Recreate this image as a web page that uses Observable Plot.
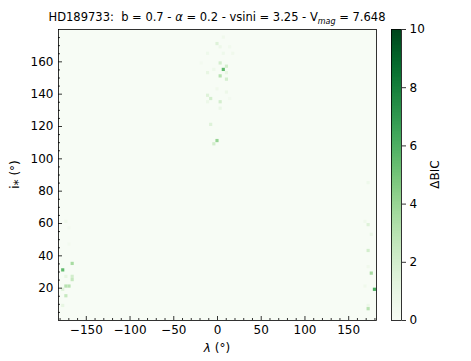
<!DOCTYPE html>
<html><head><meta charset="utf-8">
<script src="https://cdn.jsdelivr.net/npm/d3@7"></script>
<script src="https://cdn.jsdelivr.net/npm/@observablehq/plot@0.6"></script>
<style>
body{margin:0;background:#fff}
#wrap{position:relative;width:471px;height:361px}
#wrap svg{position:absolute;left:0;top:0}
</style>
</head><body><div id="wrap"></div>
<script>
// Non-zero ΔBIC cells (all other cells are ~0)
const lambdaDeg = [
  -172.8, -169.2, -169.2, -165.6, -176.4, -172.8, -165.6, -165.6, -172.8, -169.2, -176.4, -172.8, -176.4,
  7.2, 0, 3.6, 14.4, 18, -10.8, 7.2, 3.6, 10.8, 7.2, -3.6, 10.8, -10.8, 3.6, 10.8, -18, 0, 10.8, -10.8, -7.2, -10.8, 3.6, 3.6, 14.4, -7.2, 0, -3.6,
  172.8, 169.2, 172.8, 176.4, 172.8, 172.8, 176.4, 169.2, 180, 172.8, 172.8
];
const incDeg = [
  61, 57, 47, 35, 31, 27, 27, 25, 21, 21, 19, 15, 9,
  175, 171, 169, 169, 165, 165, 165, 159, 157, 155, 155, 153, 153, 151, 149, 159, 143, 141, 139, 137, 135, 135, 131, 137, 121, 111, 109,
  85, 61, 59, 53, 43, 33, 29, 21, 19, 9, 7
];
const deltaBIC = [
  0.5, 0.3, 0.3, 3.5, 5.5, 1.0, 2.0, 2.5, 3.0, 3.0, 1.5, 2.5, 1.0,
  0.5, 1.5, 0.7, 0.4, 0.5, 0.6, 0.6, 2.0, 2.0, 5.5, 0.6, 1.0, 1.0, 3.0, 2.0, 0.3, 0.5, 0.7, 1.5, 2.0, 0.7, 2.0, 0.8, 0.3, 1.5, 4.0, 2.0,
  0.6, 0.5, 1.5, 0.8, 2.0, 0.5, 3.5, 0.5, 6.0, 0.7, 3.0
];
const xTicks = [-150, -100, -50, 0, 50, 100, 150];
const yTicks = [20, 40, 60, 80, 100, 120, 140, 160];
const cbTicks = [0, 2, 4, 6, 8, 10];
const xMinor = d3.range(-180, 181, 10).filter(d => !xTicks.includes(d));
const yMinor = d3.range(5, 180, 5).filter(d => !yTicks.includes(d));

const W = 471, H = 361, mL = 58, mR = 95, mT = 29, mB = 41;
const plotW = W - mL - mR, plotH = H - mT - mB;
const cells = lambdaDeg.map((l, k) => ({lam: l, inc: incDeg[k], v: deltaBIC[k]}));
const colorOpt = {type: "linear", scheme: "greens", domain: [0, 10]};
const fmt = d => d < 0 ? "\u2212" + Math.abs(d) : String(d);
const font = {fontFamily: "DejaVu Sans", fontSize: "12px", color: "#000", background: "transparent", overflow: "visible"};
const tk = {stroke: "#000", strokeWidth: 0.8};

const main = Plot.plot({
  width: W, height: H, marginLeft: mL, marginRight: mR, marginTop: mT, marginBottom: mB,
  style: font,
  x: {domain: [-181.8, 181.8]},
  y: {domain: [0, 180]},
  color: colorOpt,
  marks: [
    Plot.frame({fill: "#f7fcf5", stroke: null}),
    Plot.rect(cells, {x1: d => d.lam - 1.8, x2: d => d.lam + 1.8, y1: d => d.inc - 1, y2: d => d.inc + 1, fill: "v"}),
    Plot.tickX(xTicks, {x: d => d, insetTop: plotH - 4, ...tk}),
    Plot.tickX(xMinor, {x: d => d, insetTop: plotH - 2, ...tk}),
    Plot.tickY(yTicks, {y: d => d, insetRight: plotW - 4, ...tk}),
    Plot.tickY(yMinor, {y: d => d, insetRight: plotW - 2, ...tk}),
    Plot.axisX(xTicks, {tickSize: 0, tickPadding: 5, tickFormat: fmt, label: null}),
    Plot.axisY(yTicks, {tickSize: 0, tickPadding: 5, label: null}),
    Plot.frame({stroke: "#000", strokeWidth: 0.8})
  ]
});

const cbStep = 0.05;
const cb = Plot.plot({
  width: W, height: H, marginLeft: 391, marginRight: 70, marginTop: mT, marginBottom: mB,
  style: font,
  x: {domain: [0, 1], axis: null},
  y: {domain: [0, 10]},
  color: colorOpt,
  marks: [
    Plot.rect(d3.range(0, 10, cbStep), {x1: 0, x2: 1, y1: d => d, y2: d => d + cbStep + 0.01, fill: d => d + cbStep / 2, shapeRendering: "crispEdges"}),
    Plot.axisY(cbTicks, {anchor: "right", tickSize: 4, tickPadding: 4, label: null, strokeWidth: 0.8}),
    Plot.frame({stroke: "#000", strokeWidth: 0.8})
  ]
});

const wrap = document.getElementById("wrap");
wrap.appendChild(main);
wrap.appendChild(cb);

const s = d3.select(main);
const t = s.append("text").attr("x", (mL + W - mR) / 2).attr("y", 21).attr("text-anchor", "middle")
  .style("white-space", "pre").attr("font-size", 11.5).attr("fill", "#000");
t.append("tspan").text("HD189733:  b = 0.7 - ");
t.append("tspan").attr("font-style", "italic").text("α");
t.append("tspan").text(" = 0.2 - vsini = 3.25 - V");
t.append("tspan").attr("font-style", "italic").attr("font-size", 8).attr("dy", 3).text("mag");
t.append("tspan").attr("dy", -3).text(" = 7.648");

const xl = s.append("text").attr("x", (mL + W - mR) / 2).attr("y", 352).attr("text-anchor", "middle").attr("font-size", 12).attr("fill", "#000");
xl.append("tspan").attr("font-style", "italic").text("λ");
xl.append("tspan").text(" (°)");

s.append("text").attr("transform", `translate(15,${mT + plotH / 2}) rotate(-90)`).attr("text-anchor", "middle")
  .attr("dominant-baseline", "central").attr("font-size", 12).attr("fill", "#000").text("i⁎ (°)");

d3.select(cb).append("text").attr("transform", `translate(435,${mT + plotH / 2}) rotate(-90)`).attr("text-anchor", "middle")
  .attr("dominant-baseline", "central").attr("font-size", 12).attr("fill", "#000").text("ΔBIC");
</script>
</body></html>
